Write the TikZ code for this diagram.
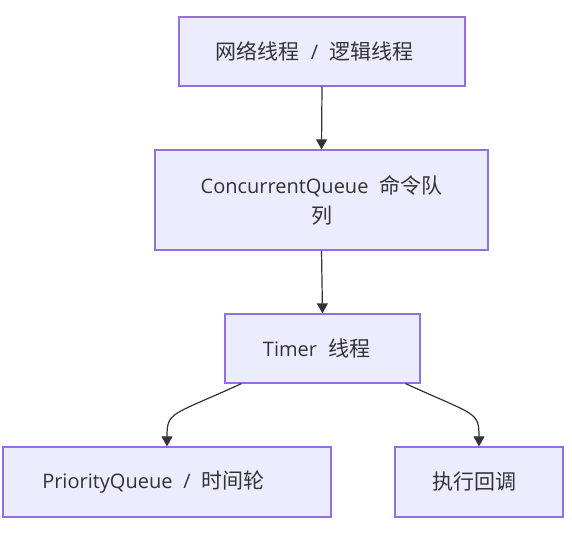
\documentclass[tikz,border=0pt]{standalone}
\usepackage{fontspec}
\setmainfont{Open Sans}[WordSpace=2.1]
\newfontfamily\cjk{Noto Sans CJK SC}[Scale=1.05]
\usetikzlibrary{arrows.meta}
\definecolor{nodefill}{HTML}{ECECFF}
\definecolor{nodeline}{HTML}{9370DB}
\definecolor{ink}{HTML}{333333}
\begin{document}
\begin{tikzpicture}[x=1pt,y=-1pt,
  box/.style={draw=nodeline, fill=nodefill, line width=1.25pt, text=ink,
    inner sep=0pt, align=center, font=\fontsize{20}{30}\selectfont},
  link/.style={draw=ink, line width=1.2pt, -{Triangle[length=10pt,width=11pt]}}]
\useasboundingbox (0,0) rectangle (572,532);
\node[box, minimum width=286pt, minimum height=69pt] (net) at (322,51.5)
  {{\cjk 网络线程} / {\cjk 逻辑线程}\hspace*{15pt}};
\node[box, minimum width=333pt, minimum height=100pt] (cq) at (321.5,200)
  {ConcurrentQueue {\cjk 命令队}\\{\cjk 列}};
\node[box, minimum width=195pt, minimum height=69pt] (timer) at (322.5,348.5)
  {Timer {\cjk 线程}\hspace*{12pt}};
\node[box, minimum width=328pt, minimum height=70pt] (pq) at (167,482)
  {PriorityQueue / {\cjk 时间轮}\hspace*{27pt}};
\node[box, minimum width=168pt, minimum height=70pt] (ex) at (479,482)
  {{\cjk 执行回调}\hspace*{9.5pt}};
\draw[link] (net.south) -- (cq.north);
\draw[link] (cq.south) -- (timer.north);
\draw[link] ([xshift=17pt]timer.south west) .. controls +(-70,32) and +(0,-35) .. (pq.north);
\draw[link] ([xshift=-15pt]timer.south east) .. controls +(70,32) and +(0,-35) .. (ex.north);
\end{tikzpicture}
\end{document}
